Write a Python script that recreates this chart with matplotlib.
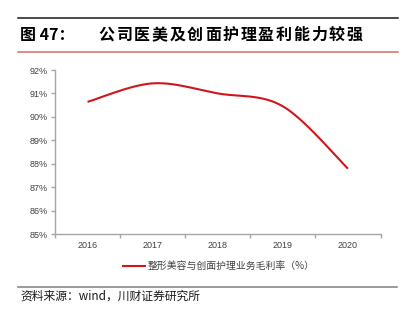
import numpy as np
import matplotlib
matplotlib.use("Agg")
import matplotlib.pyplot as plt
from matplotlib.ticker import FixedLocator, FuncFormatter
from matplotlib.lines import Line2D

plt.rcParams['font.family'] = ['Noto Sans CJK SC', 'DejaVu Sans']

years = ['2016', '2017', '2018', '2019', '2020']
margin = [90.64, 91.43, 91.0, 90.45, 87.79]
series_name = '整形美容与创面护理业务毛利率（%）'
title_num = '图 47：'
title_text = '公司医美及创面护理盈利能力较强'
source_text = '资料来源：wind，川财证券研究所'

W, H = 406, 322
fig = plt.figure(figsize=(W / 100, H / 100), dpi=100)

def fx(px):
    return px / W

def fy(py):
    return 1 - py / H

ax = fig.add_axes([fx(55), fy(234), fx(380.5) - fx(55), fy(70) - fy(234)])

# smooth (Catmull-Rom / Excel-like) curve through the data points
x = np.arange(len(margin), dtype=float)
y = np.array(margin, dtype=float)
px = np.concatenate([[x[0]], x, [x[-1]]])
py = np.concatenate([[y[0]], y, [y[-1]]])
xs, ys = [], []
t = np.linspace(0, 1, 40)
for i in range(1, len(px) - 2):
    p0, p1, p2, p3 = (np.array([px[j], py[j]]) for j in (i - 1, i, i + 1, i + 2))
    c1 = p1 + (p2 - p0) / 6
    c2 = p2 - (p3 - p1) / 6
    seg = ((1 - t)[:, None] ** 3 * p1 + 3 * ((1 - t) ** 2 * t)[:, None] * c1
           + 3 * ((1 - t) * t ** 2)[:, None] * c2 + (t ** 3)[:, None] * p2)
    xs.extend(seg[:, 0]); ys.extend(seg[:, 1])
ax.plot(xs, ys, color='#d0161b', lw=1.5, solid_capstyle='butt')

ax.set_xlim(-0.5, len(years) - 0.5)
ax.set_ylim(85, 92)
ax.yaxis.set_major_locator(FixedLocator(np.arange(85, 92.1, 1)))
ax.yaxis.set_major_formatter(FuncFormatter(lambda v, p: f'{v:.0f}%'))
ax.xaxis.set_major_locator(FixedLocator(np.arange(-0.5, len(years), 1)))
ax.xaxis.set_major_formatter(FuncFormatter(lambda v, p: ''))
ax.xaxis.set_minor_locator(FixedLocator(x))
ax.set_xticklabels(years, minor=True)

for s in ['top', 'right']:
    ax.spines[s].set_visible(False)
for s in ['left', 'bottom']:
    ax.spines[s].set_color('#a6a6a6')
    ax.spines[s].set_linewidth(1)
ax.tick_params(axis='both', which='major', color='#a6a6a6', length=3, width=1,
               labelsize=6.5, labelcolor='#404040', direction='out', pad=2)
ax.tick_params(axis='x', which='minor', length=0, labelsize=6.5,
               labelcolor='#404040', pad=5)
for lab in ax.get_yticklabels() + ax.get_xticklabels(minor=True):
    lab.set_family(['Liberation Sans', 'DejaVu Sans'])

# legend
fig.add_artist(Line2D([fx(123), fx(145)], [fy(266), fy(266)], color='#d0161b', lw=1.5))
fig.text(fx(148), fy(266), series_name, fontsize=7.1, color='#404040', va='center', ha='left')

# header
fig.add_artist(Line2D([fx(18), fx(398)], [fy(17.5), fy(17.5)], color='#1a1a1a', lw=1.1))
fig.add_artist(Line2D([fx(18), fx(398)], [fy(51.5), fy(51.5)], color='#d46a6a', lw=1.1))
fig.text(fx(20), fy(35), title_num, fontsize=11.5, fontweight='bold', va='center', ha='left')
step = (363 - 98) / len(title_text)
for k, ch in enumerate(title_text):
    fig.text(fx(98 + step * (k + 0.5)), fy(35), ch, fontsize=11.5, fontweight='bold',
             va='center', ha='center')

# footer
fig.add_artist(Line2D([fx(18), fx(397)], [fy(287), fy(287)], color='#7f7f7f', lw=1.1))
fig.text(fx(20), fy(296), source_text, fontsize=8.5, style='italic', va='center', ha='left',
         color='#1a1a1a')

fig.savefig('out.png', dpi=100)
